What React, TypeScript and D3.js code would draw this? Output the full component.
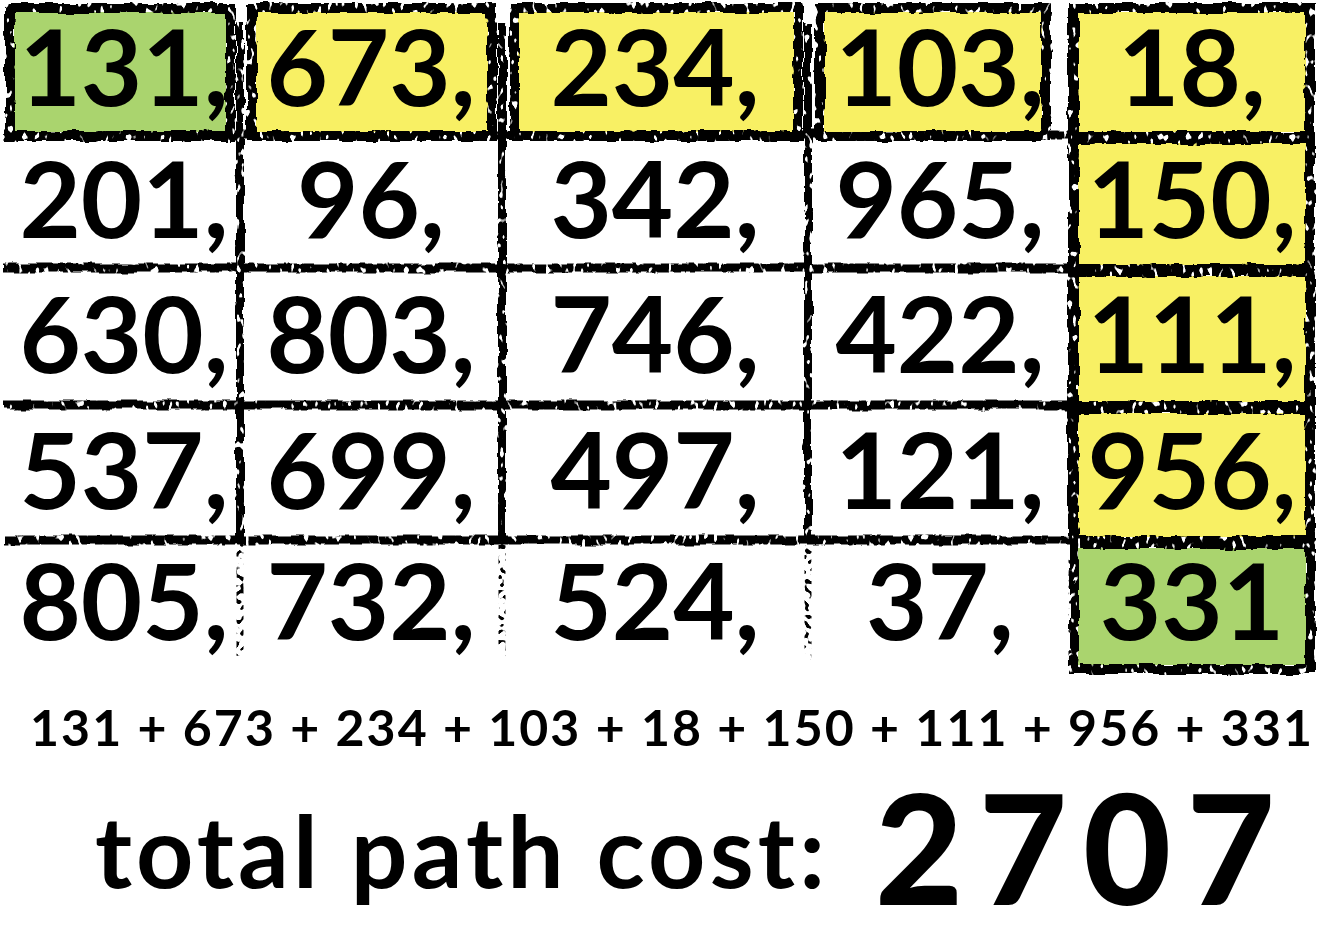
import React from 'react';
import * as d3 from 'd3';

// ---- data ----
const matrix: number[][] = [
  [131, 673, 234, 103, 18],
  [201, 96, 342, 965, 150],
  [630, 803, 746, 422, 111],
  [537, 699, 497, 121, 956],
  [805, 732, 524, 37, 331],
];
const pathCells: [number, number][] = [
  [0, 0], [0, 1], [0, 2], [0, 3], [0, 4], [1, 4], [2, 4], [3, 4], [4, 4],
];
const totalLabel = 'total path cost:';

// ---- layout ----
const W = 1342;
const H = 951;
const colEdges = [8, 240, 502, 808, 1072, 1312];
const rowEdges = [4, 135, 268, 405, 540, 668];
const GREEN = '#AAD46E';
const YELLOW = '#F8F064';
const FONT = 'Lato, "Open Sans", sans-serif';

export default function App() {
  const x = d3.scaleLinear().domain(d3.range(colEdges.length)).range(colEdges);
  const y = d3.scaleLinear().domain(d3.range(rowEdges.length)).range(rowEdges);
  const n = matrix.length;
  const line = d3.line<[number, number]>();

  const pathValues = pathCells.map(([r, c]) => matrix[r][c]);
  const total = d3.sum(pathValues);
  const onPath = (r: number, c: number) => pathCells.some(([pr, pc]) => pr === r && pc === c);
  const isEnd = (r: number, c: number) => (r === 0 && c === 0) || (r === n - 1 && c === n - 1);

  // box extents: leave a small white gap between side-by-side highlighted boxes
  const box = (r: number, c: number) => {
    const gapL = onPath(r, c - 1) && c < n - 1 ? 10 : 0;
    const gapR = onPath(r, c + 1) && c + 1 < n - 1 ? 8 : onPath(r, c + 1) ? 24 : 0;
    return { x0: x(c) + 2 + gapL, x1: x(c + 1) - 2 - gapR, y0: y(r) + 4, y1: y(r + 1) + 1 };
  };

  const hLines: [number, number][][] = d3.range(1, n).map((r) => [
    [x(0) - 4, y(r)],
    [x(n - 1), y(r)],
  ]);
  const vLines: [number, number][][] = d3.range(1, n).map((c) => [
    [x(c), y(0) + 18],
    [x(c), y(n - 1)],
  ]);
  const vDotted: [number, number][][] = d3.range(1, n).map((c) => [
    [x(c), y(n - 1)],
    [x(c), y(n) - 8],
  ]);

  const fs = 106;

  return (
    <svg
      width={W}
      height={H}
      viewBox={`0 0 ${W} ${H}`}
      style={{ position: 'absolute', left: 0, top: 0, display: 'block', background: '#fff' }}
    >
      <defs>
        <filter id="brush" filterUnits="userSpaceOnUse" x="0" y="0" width={W} height={H}>
          <feTurbulence type="fractalNoise" baseFrequency="0.05" numOctaves="3" seed="2" result="noise" />
          <feDisplacementMap in="SourceGraphic" in2="noise" scale="6" xChannelSelector="R" yChannelSelector="G" result="disp" />
          <feTurbulence type="fractalNoise" baseFrequency="0.22 0.12" numOctaves="1" seed="8" result="speck" />
          <feColorMatrix in="speck" type="matrix" values="0 0 0 0 0  0 0 0 0 0  0 0 0 0 0  -14 0 0 0 9.6" result="mask" />
          <feComposite in="disp" in2="mask" operator="in" />
        </filter>
        <filter id="dots" filterUnits="userSpaceOnUse" x="0" y="0" width={W} height={H}>
          <feTurbulence type="fractalNoise" baseFrequency="0.2" numOctaves="1" seed="5" result="speck" />
          <feColorMatrix in="speck" type="matrix" values="0 0 0 0 0  0 0 0 0 0  0 0 0 0 0  14 0 0 0 -7.6" result="mask" />
          <feComposite in="SourceGraphic" in2="mask" operator="in" />
        </filter>
      </defs>

      {/* grid lines */}
      <g filter="url(#brush)" stroke="#000" fill="none" strokeLinecap="butt">
        {hLines.map((p, i) => (
          <path key={`h${i}`} d={line(p) ?? ''} strokeWidth={9} />
        ))}
        {vLines.map((p, i) => (
          <path key={`v${i}`} d={line(p) ?? ''} strokeWidth={8} />
        ))}
      </g>

      {/* highlighted cells */}
      {pathCells.map(([r, c]) => {
        const b = box(r, c);
        return (
          <rect
            key={`f${r}-${c}`}
            x={b.x0 + 4}
            y={b.y0 + 4}
            width={b.x1 - b.x0 - 8}
            height={b.y1 - b.y0 - 8}
            fill={isEnd(r, c) ? GREEN : YELLOW}
          />
        );
      })}
      <g filter="url(#brush)" stroke="#000" fill="none">
        {pathCells.map(([r, c]) => {
          const b = box(r, c);
          return (
            <rect
              key={`b${r}-${c}`}
              x={b.x0}
              y={b.y0}
              width={b.x1 - b.x0}
              height={b.y1 - b.y0}
              strokeWidth={10}
            />
          );
        })}
      </g>
      <g filter="url(#dots)" stroke="#000" fill="none">
        {vDotted.map((p, i) => (
          <path key={`d${i}`} d={line(p) ?? ''} strokeWidth={7} />
        ))}
      </g>

      {/* numbers */}
      <g fontFamily={FONT} fontWeight={700} fontSize={fs} fill="#000" textAnchor="middle">
        {matrix.map((row, r) =>
          row.map((v, c) => {
            const last = r === n - 1 && c === n - 1;
            const cx = (x(c) + x(c + 1)) / 2;
            const cy = (y(r) + y(r + 1)) / 2;
            return (
              <text key={`t${r}-${c}`} x={cx} y={cy + fs * 0.34}>
                {last ? `${v}` : `${v},`}
              </text>
            );
          })
        )}
      </g>

      {/* sum line */}
      <text
        x={30}
        y={746}
        fontFamily={FONT}
        fontWeight={700}
        fontSize={50}
        textLength={1282}
        lengthAdjust="spacing"
      >
        {pathValues.join(' + ')}
      </text>

      <text x={95} y={888} fontFamily={FONT} fontWeight={700} fontSize={100} textLength={730} lengthAdjust="spacing">
        {totalLabel}
      </text>
      <text x={875} y={905} fontFamily={FONT} fontWeight={900} fontSize={152} textLength={400} lengthAdjust="spacing">
        {total}
      </text>
    </svg>
  );
}
